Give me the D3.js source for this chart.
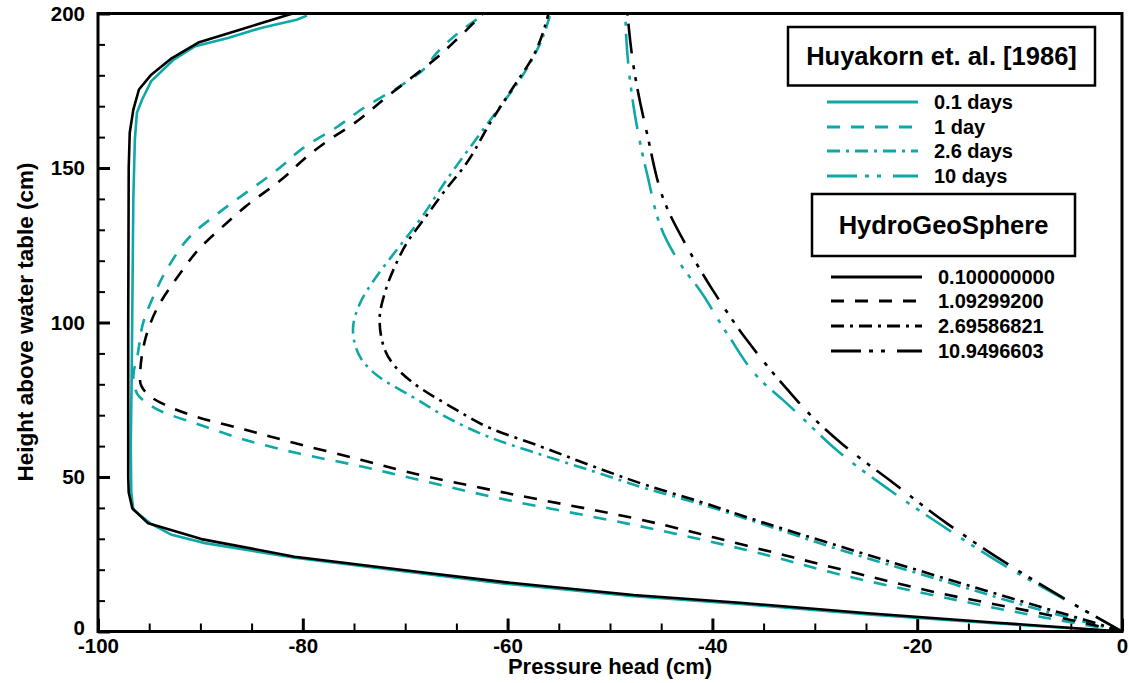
<!DOCTYPE html>
<html>
<head>
<meta charset="utf-8">
<script src="https://cdn.jsdelivr.net/npm/d3@7"></script>
<style>
  html, body { margin: 0; padding: 0; background: #fff; }
  svg { display: block; font-family: "Liberation Sans", Arial, sans-serif; font-weight: bold; }
</style>
</head>
<body>
<svg id="chart" width="1129" height="683"></svg>
<script>
// Pressure head (cm) vs height above water table (cm), pairs of [pressure, height]

// Huyakorn et al. (1986) reference profiles
const huy_0_1 = [[0,0],[-12.2,2.6],[-24.8,5.5],[-37.3,8.9],[-47.7,11.4],[-60.1,15.4],[-69.0,19.0],[-80.8,23.9],
  [-89.55,28.6],[-92.8,31.3],[-94.9,35.0],[-96.55,39.4],[-96.75,45],[-96.8,60],[-96.7,86],[-96.55,140],
  [-96.4,159.2],[-96.2,167.9],[-95.7,172.1],[-94.8,178.1],[-92.6,185.1],[-90.5,189.4],[-87.3,192.1],
  [-84.0,195.4],[-80.6,198],[-79.6,199.3]];
const huy_1 = [[0,0],[-8.0,4.8],[-17.8,11.3],[-26.6,17.7],[-36.7,26.4],[-47.7,34.5],[-60.1,42.6],[-70.0,50.1],
  [-74.25,53.4],[-80.8,57.9],[-85.6,62.0],[-90.5,67.4],[-93.8,71.2],[-95.4,74.4],[-96.2,77.1],[-96.55,82.5],
  [-96.1,90.1],[-95.6,99.8],[-94.6,108.4],[-93.1,118.2],[-90.5,129.5],[-88.25,135.4],[-82.1,150.5],
  [-79.95,156.5],[-76.7,163.2],[-73.8,170],[-70.5,176.5],[-68.2,181.9],[-66.9,187.3],[-65.0,193.2],[-62.2,200]];
const huy_2_6 = [[0,0],[-8.0,7.0],[-17.8,16.7],[-27.5,26.4],[-35.35,35.0],[-41.2,41.3],[-46.4,46.2],[-51.6,51.8],
  [-56.8,57.3],[-61.7,62.8],[-65.3,68.2],[-69.2,75.8],[-72.6,82.5],[-74.6,90.1],[-75.1,97.7],[-74.4,106.3],
  [-72.8,114.9],[-70.8,123.6],[-68.55,133.3],[-65.95,146.2],[-63.35,158.1],[-60.7,170],[-58.8,178.6],
  [-56.8,190.5],[-55.8,200]];
const huy_10 = [[0,0],[-6.1,11.3],[-11.3,21.0],[-17.4,33.9],[-22.7,45.8],[-27.9,58.8],[-29.8,64.6],[-31.6,70.3],
  [-33.2,75.2],[-35.0,80.4],[-38.6,96.6],[-41.5,111.7],[-42.6,116.4],[-44.5,126.8],[-46.4,148.4],
  [-47.7,170.0],[-48.4,191.6],[-48.5,200]];

// HydroGeoSphere simulated profiles
const hgs_0_1 = [[0,0],[-12.2,2.85],[-24.8,5.9],[-37.3,9.3],[-47.7,11.8],[-60.1,15.9],[-69.0,19.4],[-80.8,24.2],
  [-89.9,29.9],[-95.1,35.0],[-96.65,39.9],[-97.0,45],[-97.05,50],[-97.05,100],[-97.0,150],[-96.9,161.4],
  [-96.55,168.9],[-96.0,175.4],[-94.8,180.2],[-92.9,185.3],[-90.2,190.6],[-85.9,195.0],[-81.0,200]];
const hgs_1 = [[0,0],[-8.0,5.9],[-17.8,12.4],[-26.6,19.4],[-36.7,27.8],[-47.7,36.7],[-60.1,44.8],[-70.0,51.8],
  [-74.25,55.5],[-80.8,61.0],[-85.6,65.3],[-90.5,69.6],[-93.8,73.9],[-95.1,76.6],[-95.9,81.4],[-95.4,94.4],
  [-94.3,104.1],[-92.2,114.9],[-89.9,124.6],[-87.6,131.7],[-85.6,137.5],[-81.7,147.3],[-79.95,152.7],
  [-76.9,160.3],[-75.4,163.5],[-71.5,173.8],[-69.2,179.7],[-67.3,184.6],[-65.0,191.5],[-62.4,200]];
const hgs_2_6 = [[0,0],[-1.5,1.6],[-8.0,8.0],[-17.8,17.7],[-27.5,27.5],[-35.35,35.6],[-41.2,42.0],[-46.4,47.3],
  [-51.6,53.4],[-56.8,59.9],[-61.7,65.8],[-65.3,72.3],[-69.4,80.9],[-71.0,85.8],[-72.2,93.3],[-72.5,100.9],
  [-72.0,109.5],[-71.0,118.2],[-69.85,125.7],[-68.2,133.3],[-66.3,141.9],[-64.0,151.6],[-61.7,164.6],
  [-59.4,176.4],[-57.5,186.2],[-56.0,200]];
const hgs_10 = [[0,0],[-5.7,10.8],[-11.3,22.1],[-17.1,35.0],[-22.3,48.0],[-27.3,60.6],[-29.8,68.0],[-32.6,78.0],
  [-36.65,94.4],[-40.2,111.7],[-42.5,124.6],[-44.5,137.6],[-46.4,161.4],[-47.7,182.9],[-48.3,200]];

// Legend labels
const huyLabels = ["0.1 days", "1 day", "2.6 days", "10 days"];
const hgsLabels = ["0.100000000", "1.09299200", "2.69586821", "10.9496603"];

// Axis ticks
const xMajor = [-100, -80, -60, -40, -20, 0];
const yMajor = [0, 50, 100, 150, 200];

const TEAL = "#10a7a7";
const dashes = [null, "13,11", "13,6,3,6", "30,8,4,8,4,12"];

const svg = d3.select("#chart");
svg.append("rect").attr("width", 1129).attr("height", 683).attr("fill", "#fff");

const x = d3.scaleLinear().domain([-100, 0]).range([98, 1122]);
const y = d3.scaleLinear().domain([0, 200]).range([631.5, 13.5]);

svg.append("defs").append("clipPath").attr("id", "plotclip")
  .append("rect").attr("x", 98).attr("y", 13.5).attr("width", 1024).attr("height", 618);

// minor ticks
const xMinor = d3.range(-100, 1, 5).filter(v => !xMajor.includes(v));
const yMinor = d3.range(0, 201, 10).filter(v => !yMajor.includes(v));

svg.append("g").attr("transform", "translate(0,631.5)")
  .call(d3.axisBottom(x).tickValues(xMinor).tickSize(-8).tickSizeOuter(0).tickFormat(""))
  .call(g => g.select(".domain").remove())
  .call(g => g.selectAll("line").attr("stroke", "#000").attr("stroke-width", 2));
svg.append("g").attr("transform", "translate(98,0)")
  .call(d3.axisLeft(y).tickValues(yMinor).tickSize(-7).tickSizeOuter(0).tickFormat(""))
  .call(g => g.select(".domain").remove())
  .call(g => g.selectAll("line").attr("stroke", "#000").attr("stroke-width", 2));

// major ticks with labels (plain hyphen for negatives)
const plain = d => String(d);
const labelStyle = g => g.selectAll("text").attr("fill", "#000").style("font-size", "20.5px")
  .style("font-family", "'Liberation Sans', Arial, sans-serif").style("font-weight", "bold");

svg.append("g").attr("transform", "translate(0,631.5)")
  .call(d3.axisBottom(x).tickValues(xMajor).tickSize(-13).tickSizeOuter(0).tickPadding(7).tickFormat(plain))
  .call(g => g.select(".domain").remove())
  .call(g => g.selectAll("line").attr("stroke", "#000").attr("stroke-width", 3))
  .call(labelStyle);
svg.append("g").attr("transform", "translate(98,0)")
  .call(d3.axisLeft(y).tickValues(yMajor).tickSize(-12).tickSizeOuter(0).tickPadding(13).tickFormat(plain))
  .call(g => g.select(".domain").remove())
  .call(g => g.selectAll("line").attr("stroke", "#000").attr("stroke-width", 3))
  .call(labelStyle)
  // the lowest label sits just above the x-axis labels
  .call(g => g.selectAll(".tick").filter(d => d === 0).select("text").attr("y", -3.5));

// curves
const lineLinear = d3.line().x(d => x(d[0])).y(d => y(d[1]));
const lineSmooth = d3.line().x(d => x(d[0])).y(d => y(d[1])).curve(d3.curveMonotoneY);

const curves = svg.append("g").attr("clip-path", "url(#plotclip)");
const huySeries = [huy_0_1, huy_1, huy_2_6, huy_10];
const hgsSeries = [hgs_0_1, hgs_1, hgs_2_6, hgs_10];

function drawSeries(series, color) {
  series.forEach((data, i) => {
    curves.append("path")
      .attr("d", (i === 0 ? lineLinear : lineSmooth)(data))
      .attr("fill", "none")
      .attr("stroke", color)
      .attr("stroke-width", 2.6)
      .attr("stroke-linejoin", "round")
      .attr("stroke-dasharray", dashes[i]);
  });
}
drawSeries(huySeries, TEAL);
drawSeries(hgsSeries, "#000");

// frame
svg.append("rect").attr("x", 98).attr("y", 13.5).attr("width", 1024).attr("height", 618)
  .attr("fill", "none").attr("stroke", "#000").attr("stroke-width", 3);

// axis titles
svg.append("text").attr("x", 610).attr("y", 674).attr("text-anchor", "middle")
  .style("font-size", "22px").text("Pressure head (cm)");
svg.append("text").attr("transform", "translate(33,322) rotate(-90)").attr("text-anchor", "middle")
  .style("font-size", "22.5px").text("Height above water table (cm)");

// legend
function legendBlock(title, box, rows, lineX, textX, labels, color) {
  const g = svg.append("g");
  g.append("rect").attr("x", box[0]).attr("y", box[1]).attr("width", box[2] - box[0]).attr("height", box[3] - box[1])
    .attr("fill", "#fff").attr("stroke", "#000").attr("stroke-width", 2.5);
  g.append("text").attr("x", (box[0] + box[2]) / 2).attr("y", (box[1] + box[3]) / 2)
    .attr("text-anchor", "middle").attr("dominant-baseline", "central")
    .style("font-size", "25.5px").text(title);
  labels.forEach((lab, i) => {
    g.append("line").attr("x1", lineX[0]).attr("x2", lineX[1]).attr("y1", rows[i]).attr("y2", rows[i])
      .attr("stroke", color).attr("stroke-width", 3).attr("stroke-dasharray", dashes[i]);
    g.append("text").attr("x", textX).attr("y", rows[i]).attr("dominant-baseline", "central")
      .style("font-size", "20px").text(lab);
  });
}
legendBlock("Huyakorn et. al. [1986]", [788, 27, 1095, 85.5], [102, 127, 151, 176], [827, 918], 934, huyLabels, TEAL);
legendBlock("HydroGeoSphere", [812, 194, 1075, 256], [277, 301, 326, 351], [831, 922], 938, hgsLabels, "#000");
</script>
</body>
</html>
